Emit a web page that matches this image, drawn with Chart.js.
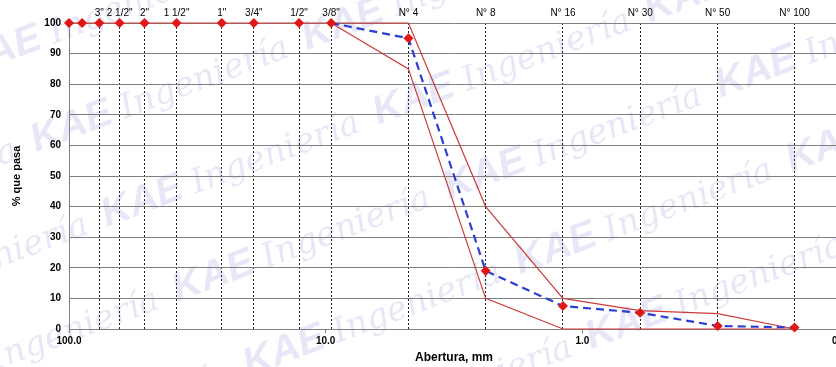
<!DOCTYPE html>
<html>
<head>
<meta charset="utf-8">
<script src="https://cdn.jsdelivr.net/npm/chart.js@4"></script>
<style>
  html, body { margin: 0; padding: 0; overflow: hidden; background: #fff; }
  #wrap { width: 851px; height: 367px; }
</style>
</head>
<body>
<div id="wrap"><canvas id="curve"></canvas></div>
<script>
// Sieve openings (mm) and their names
const sieveNames = ['3"', '2 1/2"', '2"', '1 1/2"', '1"', '3/4"', '1/2"', '3/8"', 'N° 4', 'N° 8', 'N° 16', 'N° 30', 'N° 50', 'N° 100'];
const sieveSizes = [76.2, 63.5, 50.8, 38.1, 25.4, 19.05, 12.7, 9.525, 4.76, 2.38, 1.19, 0.595, 0.297, 0.149];

// Sample gradation
const sampleSizes = [100, 88.9, 76.2, 63.5, 50.8, 38.1, 25.4, 19.05, 12.7, 9.525, 4.76, 2.38, 1.19, 0.595, 0.297, 0.149];
const samplePass = [100, 100, 100, 100, 100, 100, 100, 100, 100, 100, 95, 19, 7.5, 5.3, 1, 0.5];

// Specification band
const upperSizes = [100, 4.76, 2.38, 1.19, 0.595, 0.297, 0.149];
const upperPass = [100, 100, 40, 10, 6, 5, 0];
const lowerSizes = [9.525, 4.76, 2.38, 1.19, 0.595, 0.297, 0.149];
const lowerPass = [100, 85, 10, 0, 0, 0, 0];

// Bottom axis ticks
const apertureTicks = [100, 10, 1, 0.1];

const toPoints = (xs, ys) => xs.map((x, i) => ({ x: x, y: ys[i] }));

const red = '#cc3b3b';
const blue = '#2b3fd4';
const font = 'Liberation Sans, Arial, sans-serif';

// faint background watermark
const watermark = {
  id: 'watermark',
  beforeDraw(chart) {
    const ctx = chart.ctx;
    ctx.save();
    ctx.fillStyle = '#fff';
    ctx.fillRect(0, 0, chart.width, chart.height);
    ctx.fillStyle = 'rgba(170, 170, 225, 0.28)';
    ctx.rotate(-0.36);
    for (let r = -2; r < 6; r++) {
      for (let c = -1; c < 5; c++) {
        const x = c * 290 + r * 40 - 60;
        const y = r * 95 + 60;
        ctx.font = 'bold italic 40px ' + font;
        ctx.fillText('KAE', x, y);
        ctx.font = 'italic 34px DejaVu Serif, serif';
        ctx.fillText('Ingeniería', x + 95, y);
      }
    }
    ctx.restore();
  }
};

new Chart(document.getElementById('curve'), {
  type: 'line',
  data: {
    datasets: [
      {
        label: 'Límite superior',
        data: toPoints(upperSizes, upperPass),
        borderColor: red,
        borderWidth: 1.2,
        pointRadius: 0,
        tension: 0,
        clip: 4,
        order: 2
      },
      {
        label: 'Límite inferior',
        data: toPoints(lowerSizes, lowerPass),
        borderColor: red,
        borderWidth: 1.2,
        pointRadius: 0,
        tension: 0,
        clip: 4,
        order: 2
      },
      {
        label: 'Muestra',
        data: toPoints(sampleSizes, samplePass),
        borderColor: blue,
        borderWidth: 2.2,
        borderDash: [8, 5],
        pointStyle: 'rectRot',
        pointRadius: 3.5,
        pointBackgroundColor: '#e01818',
        pointBorderColor: '#e01818',
        tension: 0,
        clip: 6,
        order: 1,
        segment: {
          borderColor: c => (c.p0.parsed.y === 100 && c.p1.parsed.y === 100) ? 'transparent' : blue
        }
      }
    ]
  },
  options: {
    responsive: true,
    maintainAspectRatio: false,
    animation: false,
    layout: { padding: { left: 0, right: 12, top: 0, bottom: 0 } },
    plugins: {
      legend: { display: false },
      tooltip: { enabled: false }
    },
    scales: {
      x: {
        type: 'logarithmic',
        position: 'bottom',
        min: 0.1,
        max: 100,
        reverse: true,
        afterBuildTicks: s => { s.ticks = apertureTicks.map(v => ({ value: v })); },
        afterFit: s => { s.height = 38; },
        ticks: {
          autoSkip: false,
          maxRotation: 0,
          padding: 2,
          color: '#000',
          font: { family: font, size: 10, weight: 'bold' },
          callback: v => Number(v).toFixed(1)
        },
        grid: { drawOnChartArea: false, drawTicks: true, tickLength: 4, color: '#808080' },
        border: { color: '#808080' },
        title: {
          display: true,
          text: 'Abertura, mm',
          color: '#000',
          font: { family: font, size: 12, weight: 'bold' },
          padding: { top: 0, bottom: 2 }
        }
      },
      sieves: {
        type: 'logarithmic',
        position: 'top',
        min: 0.1,
        max: 100,
        reverse: true,
        afterBuildTicks: s => { s.ticks = sieveSizes.map(v => ({ value: v })); },
        afterFit: s => { s.height = 23; },
        ticks: {
          autoSkip: false,
          maxRotation: 0,
          padding: 4,
          color: '#000',
          font: { family: font, size: 10 },
          callback: (v, i) => sieveNames[i]
        },
        grid: { color: '#222', lineWidth: 1, drawTicks: false },
        border: { display: false, dash: [2, 2] }
      },
      y: {
        min: 0,
        max: 100,
        afterFit: s => { s.width = 69; },
        ticks: {
          stepSize: 10,
          padding: 8,
          color: '#000',
          font: { family: font, size: 10, weight: 'bold' }
        },
        grid: { color: '#808080', drawTicks: false },
        border: { color: '#808080' },
        title: {
          display: true,
          text: '% que pasa',
          color: '#000',
          font: { family: font, size: 11, weight: 'bold' },
          padding: { top: 10, bottom: 0 }
        }
      }
    }
  },
  plugins: [watermark]
});
</script>
</body>
</html>
